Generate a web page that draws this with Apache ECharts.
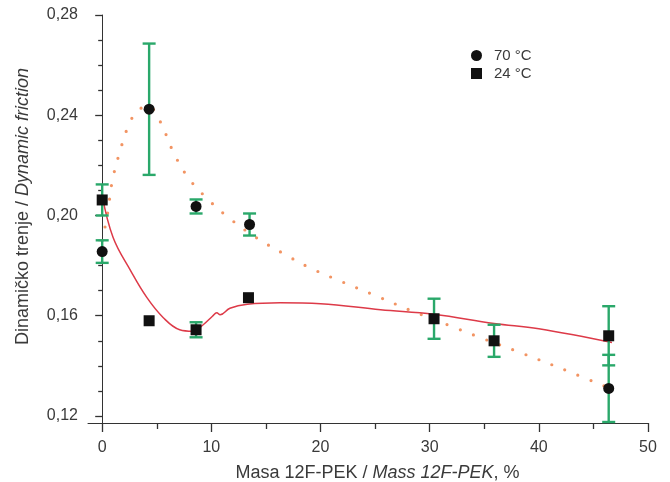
<!DOCTYPE html>
<html><head><meta charset="utf-8">
<script src="https://cdn.jsdelivr.net/npm/echarts@6/dist/echarts.min.js"></script>
<style>html,body{margin:0;padding:0;background:#fff}#c{width:670px;height:482px}</style>
</head><body><div id="c"></div>
<script>
// 70 °C measurements
const x70 = [0, 4.3, 8.6, 13.5, 46.4];
const y70 = [0.1856, 0.2424, 0.2036, 0.1964, 0.1310];
const err70 = [0.0045, 0.0262, 0.0028, 0.0044, 0.0134];
// 24 °C measurements
const x24 = [0, 4.3, 8.6, 13.4, 30.4, 35.9, 46.4];
const y24 = [0.2062, 0.1580, 0.1544, 0.1672, 0.1588, 0.1500, 0.1520];
const err24 = [0.0062, null, 0.0030, null, 0.0080, 0.0064, 0.0118];
// fitted curve 24 °C (solid red)
const fit24X = [0, 1.0, 2.6, 4.1, 5.6, 7.1, 8.3, 9.2, 10.1, 10.5, 10.8, 11.7, 13.3, 16.3, 20, 25.5, 30.4, 35.9, 40, 46.7];
const fit24Y = [0.2080, 0.1912, 0.1780, 0.1672, 0.1592, 0.1544, 0.1538, 0.1562, 0.1598, 0.1612, 0.1604, 0.1630, 0.1646, 0.1652, 0.1648, 0.1624, 0.1606, 0.1569, 0.1548, 0.1493];
// fitted curve 70 °C (dotted orange)
const fit70X = [0, 0.5, 0.9, 1.6, 2.5, 3.3, 4.2, 5.3, 6.4, 7.8, 9.7, 11.8, 14.1, 16.6, 19.0, 22.0, 25.5, 28.1, 32.1, 34.7, 38.6, 42.6, 46.5];
const fit70Y = [0.1900, 0.2010, 0.2132, 0.2252, 0.2368, 0.2420, 0.2436, 0.2376, 0.2264, 0.2156, 0.2064, 0.1984, 0.1912, 0.1848, 0.1792, 0.1735, 0.1672, 0.1624, 0.1556, 0.1512, 0.1448, 0.1380, 0.1310];
// tick labels
const xLabels = [0, 10, 20, 30, 40, 50];
const xMinorTicks = [5, 15, 25, 35, 45];
const yLabels = [0.12, 0.16, 0.20, 0.24, 0.28];
const yMinorTicks = [0.13, 0.14, 0.15, 0.17, 0.18, 0.19, 0.21, 0.22, 0.23, 0.25, 0.26, 0.27];

const zip = (a, b) => a.map((v, i) => [v, b[i]]);
const errData = (xs, ys, es) => xs.map((v, i) => es[i] == null ? null : [v, ys[i] - es[i], ys[i] + es[i]]).filter(d => d);

function renderErr(params, api) {
  const x = api.value(0), lo = api.value(1), hi = api.value(2);
  const p1 = api.coord([x, hi]), p2 = api.coord([x, lo]);
  const w = 6.5;
  const st = { stroke: '#2aa86a', lineWidth: 2.4 };
  return { type: 'group', children: [
    { type: 'line', shape: { x1: p1[0], y1: p1[1], x2: p2[0], y2: p2[1] }, style: st },
    { type: 'line', shape: { x1: p1[0] - w, y1: p1[1], x2: p1[0] + w, y2: p1[1] }, style: st },
    { type: 'line', shape: { x1: p2[0] - w, y1: p2[1], x2: p2[0] + w, y2: p2[1] }, style: st }
  ]};
}

const font = 'Liberation Sans, Arial, sans-serif';
const txt = '#3a3a3a';
const xMin = -1.3, xMax = 50, yMin = 0.1172, yMax = 0.28;
const chart = echarts.init(document.getElementById('c'));
chart.setOption({
  animation: false,
  grid: { left: 88, right: 22, top: 15, bottom: 59, containLabel: false, outerBoundsMode: 'none' },
  legend: {
    orient: 'vertical', left: 466, top: 43, itemGap: 3, itemWidth: 11, itemHeight: 11,
    textStyle: { fontFamily: font, fontSize: 15, color: txt, padding: [0, 0, 0, 7] },
    data: [{ name: '70 °C', icon: 'circle' }, { name: '24 °C', icon: 'rect' }]
  },
  xAxis: [{
    type: 'value', min: xMin, max: xMax,
    name: '{n|Masa 12F-PEK / }{i|Mass 12F-PEK}{n|, %}',
    nameLocation: 'middle', nameGap: 41,
    nameTextStyle: { padding: [0, 0, 0, 19], rich: {
      n: { fontFamily: font, fontSize: 18, color: txt },
      i: { fontFamily: font, fontSize: 18, color: txt, fontStyle: 'italic' } } },
    splitLine: { show: false },
    axisLine: { lineStyle: { color: '#333', width: 1 } },
    axisTick: { customValues: xLabels, length: 9, lineStyle: { color: '#333', width: 1.3 } },
    axisLabel: { customValues: xLabels, fontFamily: font, fontSize: 16, color: txt, margin: 17 }
  }, {
    type: 'value', min: xMin, max: xMax, position: 'bottom',
    splitLine: { show: false }, axisLine: { show: false },
    axisTick: { customValues: xMinorTicks, length: 6, lineStyle: { color: '#333', width: 1.3 } },
    axisLabel: { show: false }
  }],
  yAxis: [{
    type: 'value', min: yMin, max: yMax,
    name: '{n|Dinamičko trenje / }{i|Dynamic friction}',
    nameLocation: 'middle', nameGap: 56,
    nameTextStyle: { padding: [0, 0, 0, 25], rich: {
      n: { fontFamily: font, fontSize: 18, color: txt },
      i: { fontFamily: font, fontSize: 18, color: txt, fontStyle: 'italic' } } },
    splitLine: { show: false },
    axisLine: { show: true, lineStyle: { color: '#333', width: 1 } },
    axisTick: { show: true, customValues: yLabels, length: 7, lineStyle: { color: '#333', width: 1.3 } },
    axisLabel: { customValues: yLabels, fontFamily: font, fontSize: 16, color: txt, margin: 10,
      formatter: v => v.toFixed(2).replace('.', ',') }
  }, {
    type: 'value', min: yMin, max: yMax, position: 'left',
    splitLine: { show: false }, axisLine: { show: false },
    axisTick: { show: true, customValues: yMinorTicks, length: 4, lineStyle: { color: '#333', width: 1.3 } },
    axisLabel: { show: false }
  }],
  series: [
    { type: 'line', name: 'fit70', data: zip(fit70X, fit70Y), smooth: 0.4, symbol: 'none', z: 1,
      lineStyle: { color: '#f29463', width: 3.2, type: [0, 14], cap: 'round' } },
    { type: 'line', name: 'fit24', data: zip(fit24X, fit24Y), smooth: 0.4, symbol: 'none', z: 1,
      lineStyle: { color: '#dd3a48', width: 1.5 } },
    { type: 'custom', name: 'err70', data: errData(x70, y70, err70), renderItem: renderErr, z: 2 },
    { type: 'custom', name: 'err24', data: errData(x24, y24, err24), renderItem: renderErr, z: 2 },
    { type: 'scatter', name: '70 °C', data: zip(x70, y70), symbol: 'circle', symbolSize: 11, z: 3,
      itemStyle: { color: '#111', opacity: 1 } },
    { type: 'scatter', name: '24 °C', data: zip(x24, y24), symbol: 'rect', symbolSize: 11, z: 3,
      itemStyle: { color: '#111', opacity: 1 } }
  ]
});
</script></body></html>
